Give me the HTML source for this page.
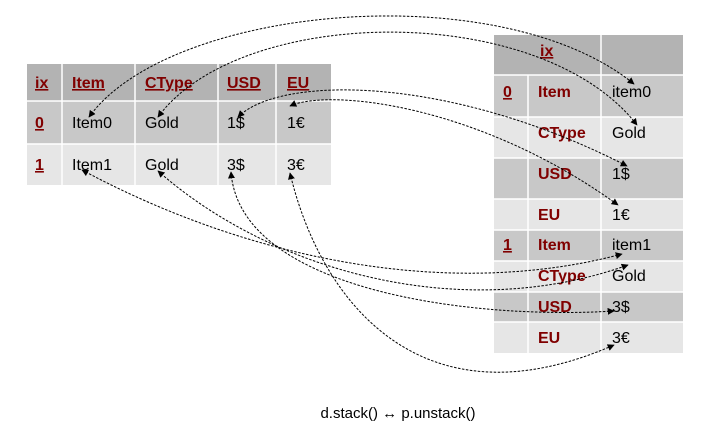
<!DOCTYPE html>
<html><head><meta charset="utf-8"><style>
body{margin:0;background:#fff;width:721px;height:431px;overflow:hidden;font-family:"Liberation Sans",sans-serif;}
svg{position:absolute;left:0;top:0}
.h{fill:#800000;font-weight:bold;font-size:16px}
.t{fill:#000;font-size:16px}
</style></head><body>
<svg width="721" height="431">
<defs><marker id="ah" viewBox="0 0 10 10" refX="9" refY="5" markerWidth="7" markerHeight="7" orient="auto-start-reverse"><path d="M0,0L10,5L0,10z" fill="#000"/></marker></defs>
<g>
<rect x="27" y="64" width="304" height="37" fill="#b3b3b3"/>
<rect x="27" y="101" width="304" height="43" fill="#c8c8c8"/>
<rect x="27" y="144" width="304" height="41" fill="#e6e6e6"/>
<g stroke="#fff" stroke-width="1.5"><line x1="27" y1="101" x2="331" y2="101"/><line x1="27" y1="144" x2="331" y2="144"/>
<line x1="62" y1="64" x2="62" y2="185"/><line x1="135" y1="64" x2="135" y2="185"/><line x1="218" y1="64" x2="218" y2="185"/><line x1="276" y1="64" x2="276" y2="185"/></g>
<g class="h" text-decoration="underline"><text x="35" y="88">ix</text><text x="72" y="88">Item</text><text x="145" y="88">CType</text><text x="227" y="88">USD</text><text x="287" y="88">EU</text><text x="35" y="128">0</text><text x="35" y="170">1</text></g>
<g class="t"><text x="72" y="128">Item0</text><text x="145" y="128">Gold</text><text x="227" y="128">1$</text><text x="287" y="128">1€</text>
<text x="72" y="170">Item1</text><text x="145" y="170">Gold</text><text x="227" y="170">3$</text><text x="287" y="170">3€</text></g>
</g>
<g>
<rect x="494" y="35" width="189" height="40" fill="#b3b3b3"/>
<rect x="494" y="75" width="189" height="42" fill="#c8c8c8"/>
<rect x="494" y="117" width="189" height="41" fill="#e6e6e6"/>
<rect x="494" y="158" width="189" height="41" fill="#c8c8c8"/>
<rect x="494" y="199" width="189" height="31" fill="#e6e6e6"/>
<rect x="494" y="230" width="189" height="31" fill="#c8c8c8"/>
<rect x="494" y="261" width="189" height="31" fill="#e6e6e6"/>
<rect x="494" y="292" width="189" height="30" fill="#c8c8c8"/>
<rect x="494" y="322" width="189" height="31" fill="#e6e6e6"/>
<g stroke="#fff" stroke-width="1.5">
<line x1="494" y1="75" x2="683" y2="75"/><line x1="494" y1="117" x2="683" y2="117"/><line x1="494" y1="158" x2="683" y2="158"/><line x1="494" y1="199" x2="683" y2="199"/>
<line x1="494" y1="230" x2="683" y2="230"/><line x1="494" y1="261" x2="683" y2="261"/><line x1="494" y1="292" x2="683" y2="292"/><line x1="494" y1="322" x2="683" y2="322"/>
<line x1="528" y1="75" x2="528" y2="353"/><line x1="601" y1="35" x2="601" y2="353"/></g>
<g class="h"><text x="540" y="56" text-decoration="underline">ix</text><text x="503" y="97" text-decoration="underline">0</text><text x="503" y="250" text-decoration="underline">1</text>
<text x="538" y="97">Item</text><text x="538" y="138">CType</text><text x="538" y="179">USD</text><text x="538" y="220">EU</text>
<text x="538" y="250">Item</text><text x="538" y="281">CType</text><text x="538" y="312">USD</text><text x="538" y="343">EU</text></g>
<g class="t"><text x="612" y="97">item0</text><text x="612" y="138">Gold</text><text x="612" y="179">1$</text><text x="612" y="220">1€</text>
<text x="612" y="250">item1</text><text x="612" y="281">Gold</text><text x="612" y="312">3$</text><text x="612" y="343">3€</text></g>
</g>
<g fill="none" stroke="#000" stroke-width="1" stroke-dasharray="2.5,1.5" marker-start="url(#ah)" marker-end="url(#ah)">
<path d="M89,117 C170,5 500,-25 634,84"/>
<path d="M158,117 C240,5 540,0 637,125"/>
<path d="M238,117 C280,75 450,75 627,166"/>
<path d="M290,106 C330,88 480,105 618,205"/>
<path d="M82,170 C250,260 450,300 622,254"/>
<path d="M158,171 C270,270 460,325 628,265"/>
<path d="M231,172 C240,290 470,320 614,311"/>
<path d="M290,173 C320,300 420,430 614,345"/>
</g>
<text x="398" y="418" text-anchor="middle" font-size="15" fill="#000">d.stack() ↔ p.unstack()</text>
</svg>
</body></html>
